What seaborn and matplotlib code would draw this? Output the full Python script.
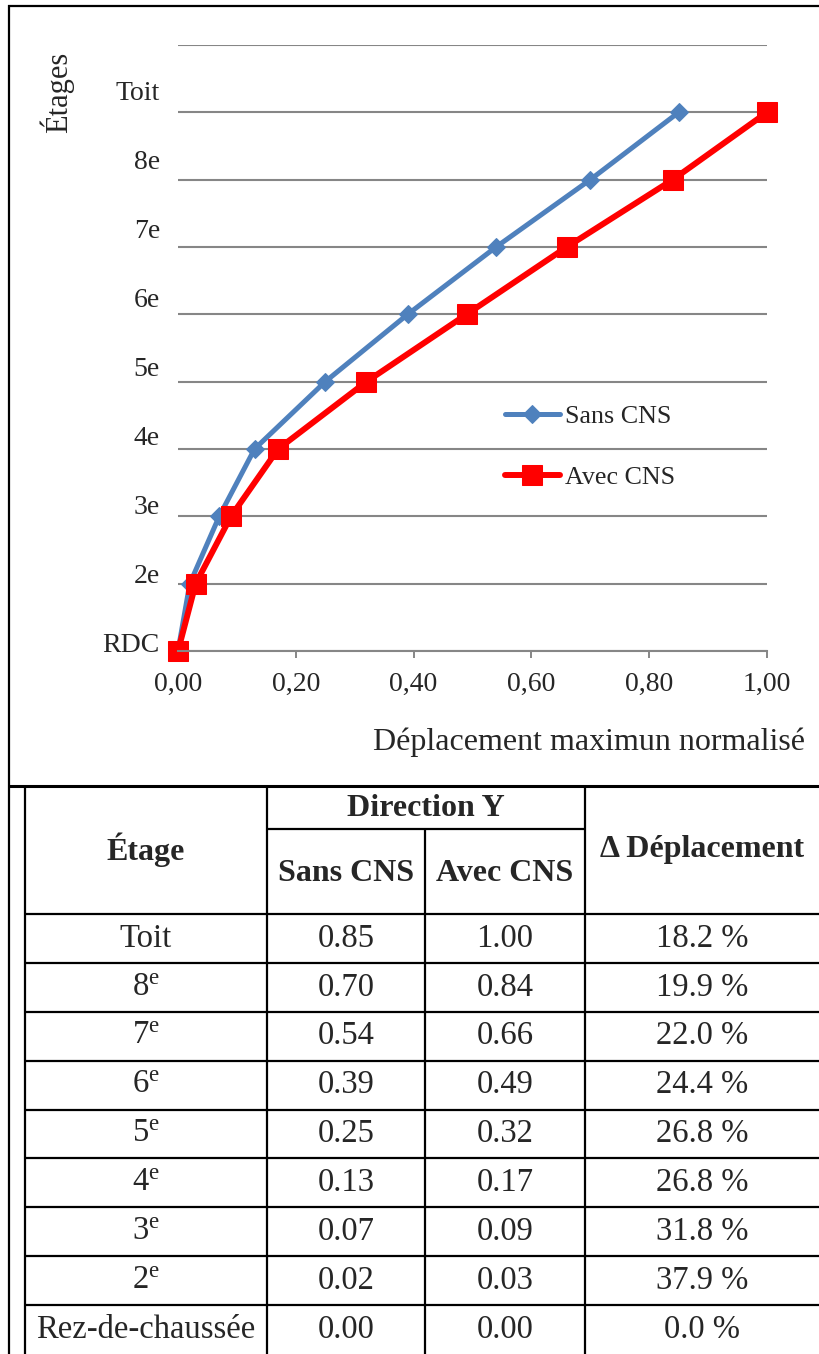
import numpy as np
import pandas as pd
import matplotlib
matplotlib.use("Agg")
import matplotlib.pyplot as plt
import seaborn as sns
from matplotlib.lines import Line2D
from matplotlib.ticker import FuncFormatter

# ---------------- data ----------------
floors = ["RDC", "2e", "3e", "4e", "5e", "6e", "7e", "8e", "Toit"]
sans_cns = [0.00, 0.02, 0.07, 0.13, 0.25, 0.39, 0.54, 0.70, 0.85]
avec_cns = [0.00, 0.03, 0.09, 0.17, 0.32, 0.49, 0.66, 0.84, 1.00]
x_ticks = [0.0, 0.2, 0.4, 0.6, 0.8, 1.0]

table_floors = ["Toit", r"8$^{\mathrm{e}}$", r"7$^{\mathrm{e}}$", r"6$^{\mathrm{e}}$",
                r"5$^{\mathrm{e}}$", r"4$^{\mathrm{e}}$", r"3$^{\mathrm{e}}$",
                r"2$^{\mathrm{e}}$", "Rez-de-chaussée"]
table_sans = [0.85, 0.70, 0.54, 0.39, 0.25, 0.13, 0.07, 0.02, 0.00]
table_avec = [1.00, 0.84, 0.66, 0.49, 0.32, 0.17, 0.09, 0.03, 0.00]
table_delta = [18.2, 19.9, 22.0, 24.4, 26.8, 26.8, 31.8, 37.9, 0.0]

# ---------------- style ----------------
sns.set_style("white")
plt.rcParams["font.family"] = ["Liberation Serif", "DejaVu Serif"]
plt.rcParams["mathtext.fontset"] = "custom"
plt.rcParams["mathtext.rm"] = "Liberation Serif"
plt.rcParams["mathtext.it"] = "Liberation Serif:italic"
plt.rcParams["mathtext.bf"] = "Liberation Serif:bold"

W, H = 820, 1354
fig = plt.figure(figsize=(W / 100, H / 100), dpi=100)


def fx(x):
    return x / W


def fy(y):
    return 1 - y / H


BLUE = "#4F81BD"
RED = "#FF0000"
GRID = "#868686"

ax = fig.add_axes([fx(178), fy(651), (767 - 178) / W, (651 - 45) / H])

df = pd.DataFrame({"level": np.arange(len(floors)), "Sans CNS": sans_cns, "Avec CNS": avec_cns})
sns.lineplot(data=df, x="Sans CNS", y="level", orient="y", estimator=None,
             color=BLUE, linewidth=3.6, marker="D", markersize=9.5,
             markeredgecolor=BLUE, label="Sans CNS", ax=ax)
sns.lineplot(data=df, x="Avec CNS", y="level", orient="y", estimator=None,
             color=RED, linewidth=4.3, marker="s", markersize=14,
             markeredgecolor=RED, label="Avec CNS", ax=ax)
for ln in ax.lines:
    ln.set_clip_on(False)

ax.set_xlim(0, 1)
ax.set_ylim(0, 9)
ax.set_xlabel("")
ax.set_ylabel("")
ax.set_axisbelow(True)

# horizontal gridlines at each level
ax.set_yticks(np.arange(0, 10), minor=True)
ax.grid(which="minor", axis="y", color=GRID, linewidth=1.5)
ax.grid(which="major", axis="x", visible=False)
ax.grid(which="major", axis="y", visible=False)
# category labels
ax.set_yticks(np.arange(len(floors)) * 1.025 + 0.13)
ax.set_yticklabels(floors)
ax.tick_params(axis="y", which="both", length=0, pad=13, labelsize=20)

ax.set_xticks(x_ticks)
ax.xaxis.set_major_formatter(FuncFormatter(lambda v, p: f"{v:.2f}".replace(".", ",")))
ax.tick_params(axis="x", which="major", bottom=True, direction="out", length=5,
               width=1.4, color=GRID, pad=10, labelsize=20)

for s in ["left", "top", "right"]:
    ax.spines[s].set_visible(False)
ax.spines["bottom"].set_color(GRID)
ax.spines["bottom"].set_linewidth(1.5)

leg = ax.legend(loc="center left", bbox_to_anchor=((505 - 178) / 589, (651 - 447) / 606),
                frameon=False, fontsize=18.7, handlelength=2.1, handletextpad=0.2,
                labelspacing=1.45, borderpad=0, borderaxespad=0)

fig.text(fx(805), fy(742), "Déplacement maximun normalisé", ha="right", va="center",
         fontsize=23)
fig.text(fx(57), fy(92), "Étages", rotation=90, ha="center", va="center", fontsize=22)

# ---------------- frames ----------------
LW = 1.6


def hline(y, x0, x1, lw=LW):
    fig.add_artist(Line2D([fx(x0), fx(x1)], [fy(y), fy(y)], color="black", lw=lw,
                          transform=fig.transFigure, solid_capstyle="butt"))


def vline(x, y0, y1, lw=LW):
    fig.add_artist(Line2D([fx(x), fx(x)], [fy(y0), fy(y1)], color="black", lw=lw,
                          transform=fig.transFigure, solid_capstyle="butt"))


# chart box
hline(6, 8, W)
vline(9, 5, H)
hline(786, 8, W, lw=2.2)

# table grid
top, sub, hdr = 786, 829, 914
row_h = (H - hdr) / len(table_floors)
vline(25, top, H)
vline(267, top, H)
vline(585, top, H)
vline(425, sub, H)
hline(sub, 267, 585)
for i in range(len(table_floors)):
    hline(hdr + i * row_h, 25, W)

# header text
HF = 23
fig.text(fx((25 + 267) / 2), fy((top + hdr) / 2), "Étage", ha="center", va="center",
         fontsize=HF, fontweight="bold")
fig.text(fx((267 + 585) / 2), fy((top + sub) / 2 + 1), "Direction Y", ha="center",
         va="center", fontsize=HF, fontweight="bold")
fig.text(fx((267 + 425) / 2), fy((sub + hdr) / 2 + 2), "Sans CNS", ha="center",
         va="center", fontsize=HF, fontweight="bold")
fig.text(fx((425 + 585) / 2), fy((sub + hdr) / 2 + 2), "Avec CNS", ha="center",
         va="center", fontsize=HF, fontweight="bold")
fig.text(fx(702), fy((top + hdr) / 2), "Δ Déplacement", ha="center",
         va="center", fontsize=HF, fontweight="bold")

BF = 23.5
for i, (fl, s, a, d) in enumerate(zip(table_floors, table_sans, table_avec, table_delta)):
    yc = hdr + (i + 0.5) * row_h
    fig.text(fx((25 + 267) / 2), fy(yc), fl, ha="center", va="center", fontsize=BF)
    fig.text(fx((267 + 425) / 2), fy(yc), f"{s:.2f}", ha="center", va="center", fontsize=BF)
    fig.text(fx((425 + 585) / 2), fy(yc), f"{a:.2f}", ha="center", va="center", fontsize=BF)
    fig.text(fx((585 + 820) / 2), fy(yc), f"{d:.1f} %", ha="center", va="center", fontsize=BF)

fig.savefig("out.png", dpi=100)
